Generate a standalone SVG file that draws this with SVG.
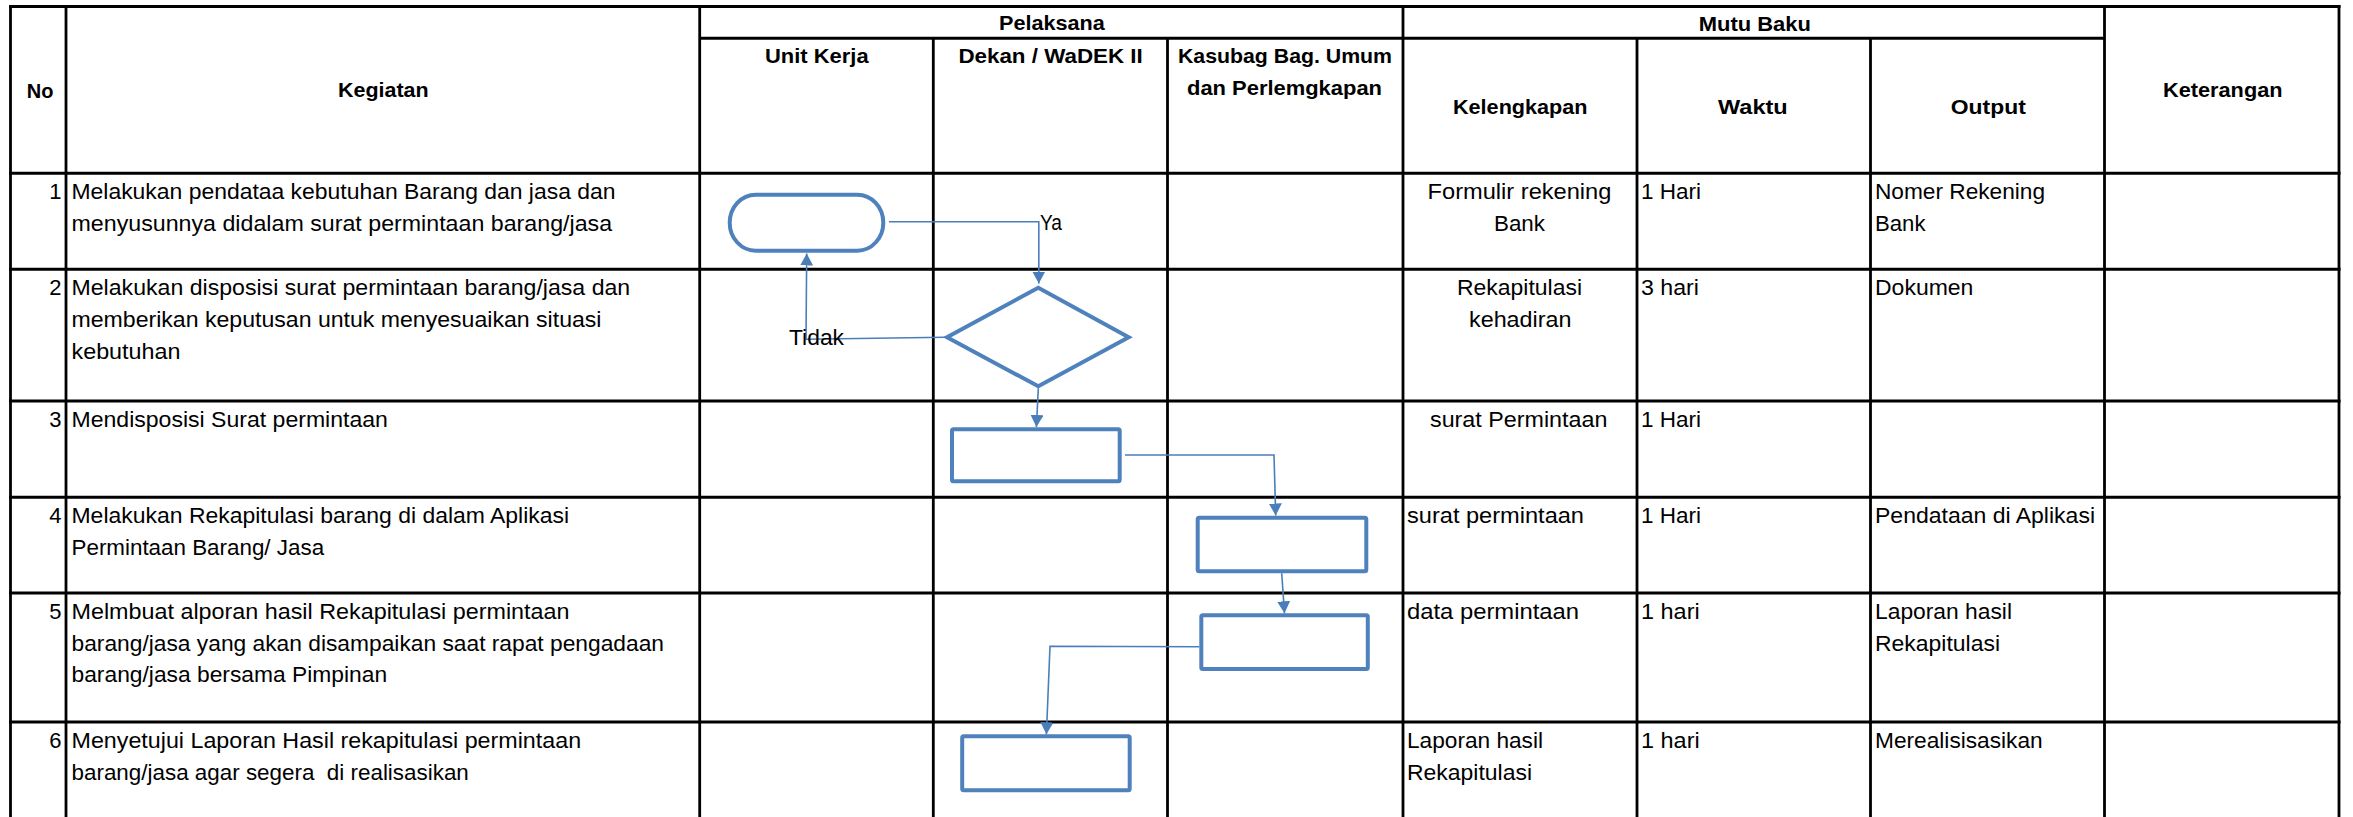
<svg xmlns="http://www.w3.org/2000/svg" width="2353" height="817" viewBox="0 0 2353 817">
<style>
.bg{fill:#ffffff}
.h{stroke:#000;stroke-width:3;fill:none}
.v{stroke:#000;stroke-width:2.8;fill:none}
.hd{font-family:"Liberation Sans",Arial,sans-serif;font-weight:bold;font-size:21px;fill:#000}
.t{font-family:"Liberation Sans",Arial,sans-serif;font-size:22px;fill:#000}
.shape{fill:#ffffff;stroke:#4F81BD;stroke-width:4}
.conn{fill:none;stroke:#4A7EBB;stroke-width:1.6}
</style>
<defs>
<marker id="ah" viewBox="0 0 12 13" refX="12" refY="6.5" markerWidth="12" markerHeight="13" orient="auto" markerUnits="userSpaceOnUse">
<path d="M0,0 L12,6.5 L0,13 z" fill="#4A7EBB"/>
</marker>
</defs>
<rect class="bg" x="0" y="0" width="2353" height="817"/>

<g id="grid">
<line class="h" x1="9" y1="6.5" x2="2340.5" y2="6.5"/>
<line class="h" x1="699.7" y1="38.3" x2="2104.5" y2="38.3"/>
<line class="h" x1="9" y1="173.3" x2="2340.5" y2="173.3"/>
<line class="h" x1="9" y1="269.3" x2="2340.5" y2="269.3"/>
<line class="h" x1="9" y1="401" x2="2340.5" y2="401"/>
<line class="h" x1="9" y1="497.3" x2="2340.5" y2="497.3"/>
<line class="h" x1="9" y1="593" x2="2340.5" y2="593"/>
<line class="h" x1="9" y1="722" x2="2340.5" y2="722"/>
<line class="v" x1="10.5" y1="5" x2="10.5" y2="817"/>
<line class="v" x1="66" y1="5" x2="66" y2="817"/>
<line class="v" x1="699.7" y1="5" x2="699.7" y2="817"/>
<line class="v" x1="933.3" y1="38.3" x2="933.3" y2="817"/>
<line class="v" x1="1167.5" y1="38.3" x2="1167.5" y2="817"/>
<line class="v" x1="1403" y1="5" x2="1403" y2="817"/>
<line class="v" x1="1637" y1="38.3" x2="1637" y2="817"/>
<line class="v" x1="1870.5" y1="38.3" x2="1870.5" y2="817"/>
<line class="v" x1="2104.5" y1="5" x2="2104.5" y2="817"/>
<line class="v" x1="2339" y1="5" x2="2339" y2="817"/>
</g>

<g id="header">
<text class="hd" x="26.7" y="97.5" textLength="26.7" lengthAdjust="spacingAndGlyphs">No</text>
<text class="hd" x="338" y="97" textLength="90.6" lengthAdjust="spacingAndGlyphs">Kegiatan</text>
<text class="hd" x="999" y="30" textLength="105.8" lengthAdjust="spacingAndGlyphs">Pelaksana</text>
<text class="hd" x="765" y="63.3" textLength="103.6" lengthAdjust="spacingAndGlyphs">Unit Kerja</text>
<text class="hd" x="958.4" y="63.3" textLength="184.4" lengthAdjust="spacingAndGlyphs">Dekan / WaDEK II</text>
<text class="hd" x="1178" y="63.3" textLength="214" lengthAdjust="spacingAndGlyphs">Kasubag Bag. Umum</text>
<text class="hd" x="1187" y="95" textLength="195" lengthAdjust="spacingAndGlyphs">dan Perlemgkapan</text>
<text class="hd" x="1698.7" y="30.5" textLength="112.2" lengthAdjust="spacingAndGlyphs">Mutu Baku</text>
<text class="hd" x="1453" y="113.5" textLength="134.5" lengthAdjust="spacingAndGlyphs">Kelengkapan</text>
<text class="hd" x="1718" y="113.5" textLength="69.7" lengthAdjust="spacingAndGlyphs">Waktu</text>
<text class="hd" x="1950.8" y="113.5" textLength="75" lengthAdjust="spacingAndGlyphs">Output</text>
<text class="hd" x="2163" y="97" textLength="119.5" lengthAdjust="spacingAndGlyphs">Keterangan</text>
</g>

<g id="rows">
<text class="t" x="61.5" y="199.3" text-anchor="end">1</text>
<text class="t" x="71.5" y="199.3" textLength="544" lengthAdjust="spacingAndGlyphs">Melakukan pendataa kebutuhan Barang dan jasa dan</text>
<text class="t" x="71.5" y="231" textLength="540.6" lengthAdjust="spacingAndGlyphs">menyusunnya didalam surat permintaan barang/jasa</text>
<text class="t" x="1427.6" y="199.3" textLength="183.8" lengthAdjust="spacingAndGlyphs">Formulir rekening</text>
<text class="t" x="1494" y="231" textLength="51" lengthAdjust="spacingAndGlyphs">Bank</text>
<text class="t" x="1641" y="199.3" textLength="60" lengthAdjust="spacingAndGlyphs">1 Hari</text>
<text class="t" x="1875" y="199.3" textLength="170" lengthAdjust="spacingAndGlyphs">Nomer Rekening</text>
<text class="t" x="1875" y="231" textLength="50.5" lengthAdjust="spacingAndGlyphs">Bank</text>

<text class="t" x="61.5" y="295.3" text-anchor="end">2</text>
<text class="t" x="71.5" y="295.3" textLength="558.7" lengthAdjust="spacingAndGlyphs">Melakukan disposisi surat permintaan barang/jasa dan</text>
<text class="t" x="71.5" y="327" textLength="530" lengthAdjust="spacingAndGlyphs">memberikan keputusan untuk menyesuaikan situasi</text>
<text class="t" x="71.5" y="358.7" textLength="109" lengthAdjust="spacingAndGlyphs">kebutuhan</text>
<text class="t" x="1457" y="295.3" textLength="125" lengthAdjust="spacingAndGlyphs">Rekapitulasi</text>
<text class="t" x="1469" y="327" textLength="102.5" lengthAdjust="spacingAndGlyphs">kehadiran</text>
<text class="t" x="1641" y="295.3" textLength="58" lengthAdjust="spacingAndGlyphs">3 hari</text>
<text class="t" x="1875" y="295.3" textLength="98.4" lengthAdjust="spacingAndGlyphs">Dokumen</text>

<text class="t" x="61.5" y="427" text-anchor="end">3</text>
<text class="t" x="71.5" y="427" textLength="316.4" lengthAdjust="spacingAndGlyphs">Mendisposisi Surat permintaan</text>
<text class="t" x="1430" y="427" textLength="177.4" lengthAdjust="spacingAndGlyphs">surat Permintaan</text>
<text class="t" x="1641" y="427" textLength="60" lengthAdjust="spacingAndGlyphs">1 Hari</text>

<text class="t" x="61.5" y="523.3" text-anchor="end">4</text>
<text class="t" x="71.5" y="523.3" textLength="497.6" lengthAdjust="spacingAndGlyphs">Melakukan Rekapitulasi barang di dalam Aplikasi</text>
<text class="t" x="71.5" y="555" textLength="252.6" lengthAdjust="spacingAndGlyphs">Permintaan Barang/ Jasa</text>
<text class="t" x="1407" y="523.3" textLength="177" lengthAdjust="spacingAndGlyphs">surat permintaan</text>
<text class="t" x="1641" y="523.3" textLength="60" lengthAdjust="spacingAndGlyphs">1 Hari</text>
<text class="t" x="1875" y="523.3" textLength="220" lengthAdjust="spacingAndGlyphs">Pendataan di Aplikasi</text>

<text class="t" x="61.5" y="619" text-anchor="end">5</text>
<text class="t" x="71.5" y="619" textLength="498" lengthAdjust="spacingAndGlyphs">Melmbuat alporan hasil Rekapitulasi permintaan</text>
<text class="t" x="71.5" y="650.7" textLength="592.5" lengthAdjust="spacingAndGlyphs">barang/jasa yang akan disampaikan saat rapat pengadaan</text>
<text class="t" x="71.5" y="682.4" textLength="315.6" lengthAdjust="spacingAndGlyphs">barang/jasa bersama Pimpinan</text>
<text class="t" x="1407" y="619" textLength="172" lengthAdjust="spacingAndGlyphs">data permintaan</text>
<text class="t" x="1641" y="619" textLength="58.7" lengthAdjust="spacingAndGlyphs">1 hari</text>
<text class="t" x="1875" y="619" textLength="137" lengthAdjust="spacingAndGlyphs">Laporan hasil</text>
<text class="t" x="1875" y="650.7" textLength="125" lengthAdjust="spacingAndGlyphs">Rekapitulasi</text>

<text class="t" x="61.5" y="748" text-anchor="end">6</text>
<text class="t" x="71.5" y="748" textLength="509.6" lengthAdjust="spacingAndGlyphs">Menyetujui Laporan Hasil rekapitulasi permintaan</text>
<text class="t" x="71.5" y="779.7" textLength="397.3" lengthAdjust="spacingAndGlyphs" xml:space="preserve">barang/jasa agar segera  di realisasikan</text>
<text class="t" x="1407" y="748" textLength="136" lengthAdjust="spacingAndGlyphs">Laporan hasil</text>
<text class="t" x="1407" y="779.7" textLength="125" lengthAdjust="spacingAndGlyphs">Rekapitulasi</text>
<text class="t" x="1641" y="748" textLength="58.7" lengthAdjust="spacingAndGlyphs">1 hari</text>
<text class="t" x="1875" y="748" textLength="167.7" lengthAdjust="spacingAndGlyphs">Merealisisasikan</text>
</g>

<g id="start">
<rect class="shape" x="729.7" y="194.7" width="153.6" height="56" rx="26" ry="28"/>
</g>
<g id="decision">
<polygon class="shape" points="947,337.3 1038.3,287.7 1128.7,337.3 1038.3,386.3"/>
</g>
<g id="process1">
<rect class="shape" x="952" y="429.3" width="167.7" height="52" rx="1.5"/>
</g>
<g id="process2">
<rect class="shape" x="1197.7" y="517.7" width="168.6" height="53.6" rx="1.5"/>
</g>
<g id="process3">
<rect class="shape" x="1201.3" y="615.3" width="166.5" height="53.7" rx="1.5"/>
</g>
<g id="process4">
<rect class="shape" x="962.2" y="736.3" width="167.5" height="54" rx="1.5"/>
</g>

<g id="connectors">
<path class="conn" d="M889,221.7 H1038.8 V283.5" marker-end="url(#ah)"/>
<path class="conn" d="M945,337.3 L806,339.3 L806.7,253.5" marker-end="url(#ah)"/>
<path class="conn" d="M1038.3,388.3 L1036.4,427" marker-end="url(#ah)"/>
<path class="conn" d="M1125,455 H1274 L1275.7,515.5" marker-end="url(#ah)"/>
<path class="conn" d="M1281.7,573.3 L1284.5,613.3" marker-end="url(#ah)"/>
<path class="conn" d="M1199.3,646.7 L1050,646.3 L1046.4,734.3" marker-end="url(#ah)"/>
</g>

<g id="labels">
<text class="t" x="1040" y="230" textLength="22" lengthAdjust="spacingAndGlyphs">Ya</text>
<text class="t" x="789" y="345" textLength="55" lengthAdjust="spacingAndGlyphs">Tidak</text>
</g>
</svg>
